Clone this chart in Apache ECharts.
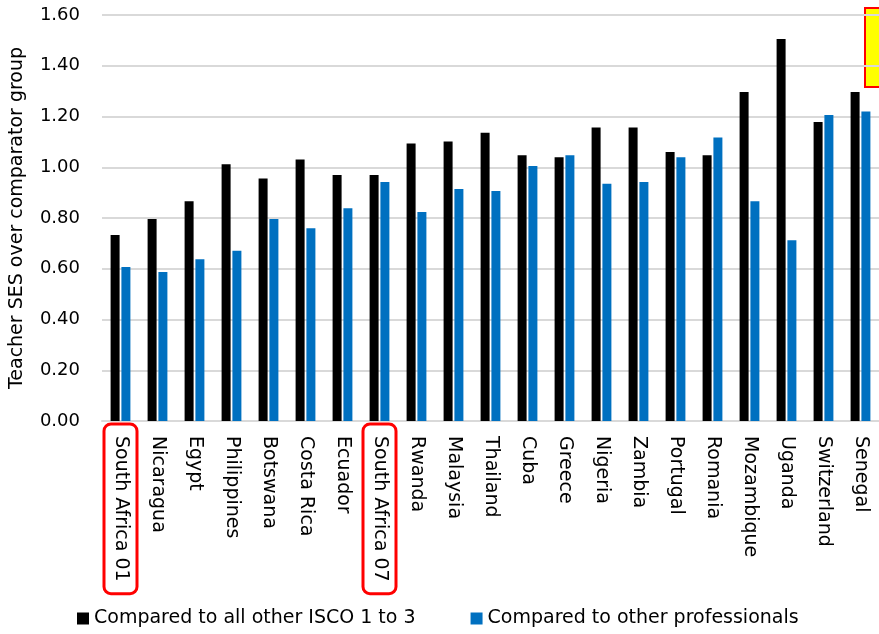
<!DOCTYPE html>
<html>
<head>
<meta charset="utf-8">
<script src="https://cdn.jsdelivr.net/npm/echarts@6/dist/echarts.min.js"></script>
<style>
	html, body { margin: 0; padding: 0; background: #fff; }
	#chart { width: 879px; height: 634px; }
</style>
</head>
<body>
<div id="chart"></div>
<script>
	// 数据
	var countries = ['South Africa 01', 'Nicaragua', 'Egypt', 'Philippines', 'Botswana', 'Costa Rica', 'Ecuador',
		'South Africa 07', 'Rwanda', 'Malaysia', 'Thailand', 'Cuba', 'Greece', 'Nigeria', 'Zambia', 'Portugal',
		'Romania', 'Mozambique', 'Uganda', 'Switzerland', 'Senegal'];
	var allIsco = [0.733, 0.796, 0.866, 1.012, 0.956, 1.031, 0.969, 0.969, 1.094, 1.101, 1.136, 1.047, 1.039,
		1.157, 1.157, 1.060, 1.047, 1.297, 1.505, 1.178, 1.297];
	var professionals = [0.607, 0.587, 0.637, 0.671, 0.796, 0.760, 0.838, 0.942, 0.824, 0.914, 0.906, 1.005, 1.047,
		0.935, 0.942, 1.039, 1.117, 0.866, 0.712, 1.206, 1.220];
	var highlighted = ['South Africa 01', 'South Africa 07'];
	var seriesNames = ['Compared to all other ISCO 1 to 3', 'Compared to other professionals'];

	var font = 'DejaVu Sans';
	var myChart = echarts.init(document.getElementById('chart'));
	var option = {
		animation: false,
		textStyle: { fontFamily: font },
		grid: { left: 102, right: -10, top: 15, bottom: 213 },
		legend: {
			data: seriesNames,
			left: 72,
			bottom: 1,
			icon: 'rect',
			itemWidth: 12,
			itemHeight: 12,
			itemGap: 55,
			textStyle: { fontSize: 19, color: '#000', fontFamily: font }
		},
		xAxis: {
			type: 'category',
			data: countries,
			axisTick: { show: false },
			axisLine: { lineStyle: { color: '#d9d9d9', width: 2 } },
			axisLabel: {
				interval: 0,
				rotate: -90,
				margin: 3,
				color: '#000',
				fontSize: 19,
				formatter: function(v) {
					return highlighted.indexOf(v) >= 0 ? '{hl|' + v + '}' : '{n|' + v + '}';
				},
				rich: {
					n: { fontSize: 19, fontFamily: font, color: '#000', padding: [7, 12, 7, 12], borderWidth: 3, borderColor: 'transparent' },
					hl: { fontSize: 19, fontFamily: font, color: '#000', padding: [7, 12, 7, 12], borderWidth: 3, borderColor: '#ff0000', borderRadius: 7 }
				}
			}
		},
		yAxis: {
			type: 'value',
			min: 0,
			max: 1.6,
			interval: 0.2,
			name: 'Teacher SES over comparator group',
			nameLocation: 'middle',
			nameGap: 75,
			nameTextStyle: { fontSize: 19, color: '#000', fontFamily: font },
			axisLine: { show: false },
			axisTick: { show: false },
			axisLabel: {
				fontSize: 18,
				color: '#000',
				margin: 22,
				formatter: function(v) { return v.toFixed(2); }
			},
			splitLine: { lineStyle: { color: '#d9d9d9', width: 2 } }
		},
		series: [{
			name: seriesNames[0],
			type: 'bar',
			data: allIsco,
			barWidth: 9,
			barGap: '20%',
			itemStyle: { color: '#000000' }
		}, {
			name: seriesNames[1],
			type: 'bar',
			data: professionals,
			barWidth: 9,
			itemStyle: { color: '#0070c0' }
		}],
		graphic: [{
			type: 'rect',
			shape: { x: 865, y: 8, width: 20, height: 79 },
			style: { fill: '#ffff00', stroke: '#ff0000', lineWidth: 2 }
		}]
	};
	myChart.setOption(option);
</script>
</body>
</html>
